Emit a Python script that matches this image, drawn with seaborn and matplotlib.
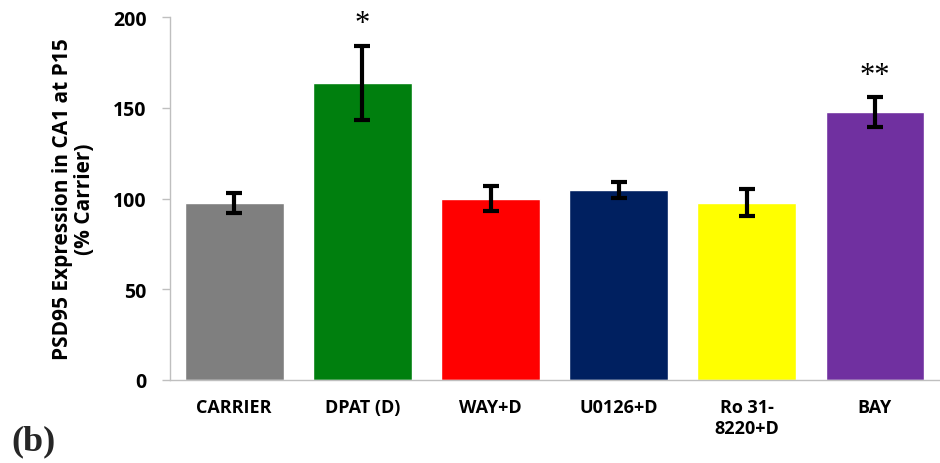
import matplotlib
matplotlib.use("Agg")
import matplotlib.pyplot as plt
import seaborn as sns
import pandas as pd

categories = ["CARRIER", "DPAT (D)", "WAY+D", "U0126+D", "Ro 31-\n8220+D", "BAY"]
values = [97.5, 163.8, 99.8, 104.7, 97.8, 147.7]
errors = [5.5, 20.5, 6.9, 4.4, 7.2, 8.2]
colors = ["#7f7f7f", "#007f0e", "#ff0000", "#002060", "#ffff00", "#7030a0"]
stars = ["", "*", "", "", "", "**"]
yticks = [0, 50, 100, 150, 200]
ylabel = "PSD95 Expression in CA1 at P15\n(% Carrier)"
panel = "(b)"

sns.set_theme(style="white")
plt.rcParams["font.family"] = ["Open Sans", "DejaVu Sans"]

fig = plt.figure(figsize=(9.4, 4.64), dpi=100)
ax = fig.add_axes([0.181, 0.179, 0.818, 0.782])

df = pd.DataFrame({"cat": categories, "val": values})
sns.barplot(data=df, x="cat", y="val", hue="cat", palette=colors, legend=False,
            width=0.77, saturation=1, ax=ax, errorbar=None)
xs = list(range(len(categories)))
ax.errorbar(xs, values, yerr=errors, fmt="none", ecolor="black", elinewidth=3,
            capsize=6, capthick=3)
for x, v, e, s in zip(xs, values, errors, stars):
    if s:
        ax.text(x, v + e + 4, s, ha="center", va="bottom", fontsize=22,
                family=["Liberation Serif"], color="black")

ax.set_ylim(0, 200)
ax.set_xlim(-0.5, len(categories) - 0.5)
ax.set_yticks(yticks)
ax.set_yticklabels([str(t) for t in yticks], fontsize=14, fontweight="bold")
ax.set_xticks(xs)
ax.set_xticklabels(categories, fontsize=13, fontweight="bold")
ax.tick_params(axis="x", length=0, pad=13, colors="black")
ax.tick_params(axis="y", length=6, width=1, color="#bfbfbf", labelcolor="black",
               direction="out", left=True, pad=11)
ax.set_xlabel("")
ax.set_ylabel(ylabel, fontsize=15, fontweight="bold", labelpad=13, linespacing=1.05,
              color="black")
for sp in ["top", "right"]:
    ax.spines[sp].set_visible(False)
for sp in ["left", "bottom"]:
    ax.spines[sp].set_color("#bfbfbf")
    ax.spines[sp].set_linewidth(1)

fig.text(0.012, 0.03, panel, fontsize=26, fontweight="bold", family=["Liberation Serif"])

fig.savefig("out.png", dpi=100)
